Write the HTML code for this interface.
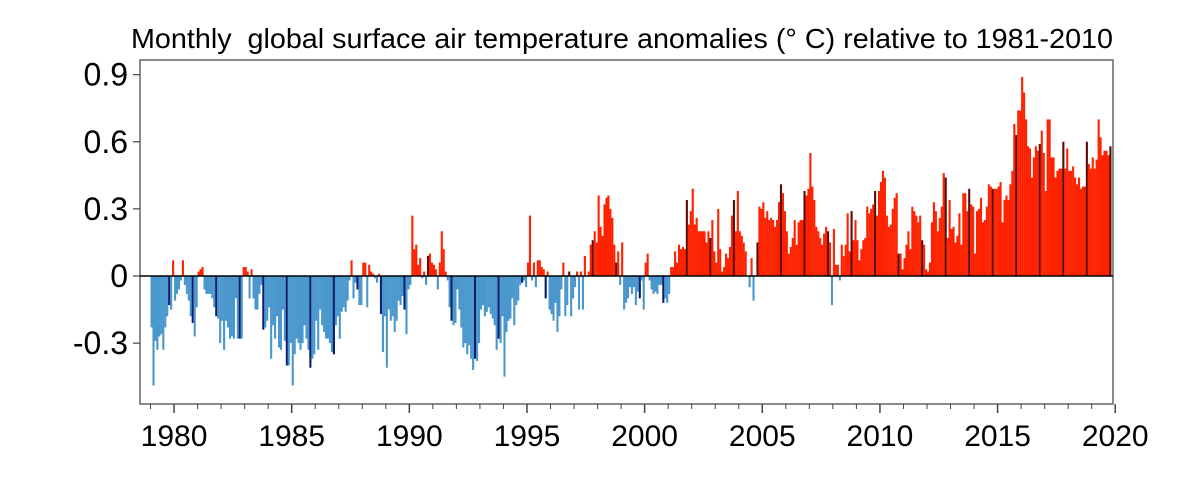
<!DOCTYPE html>
<html><head><meta charset="utf-8"><style>
html,body{margin:0;padding:0;background:#fff;}
svg{display:block;font-family:"Liberation Sans",sans-serif;}
</style></head><body>
<svg id="chart" width="1200" height="497" viewBox="0 0 1200 497" xmlns="http://www.w3.org/2000/svg">
<text x="131" y="48" font-size="28" textLength="982" lengthAdjust="spacingAndGlyphs" xml:space="preserve">Monthly  global surface air temperature anomalies (° C) relative to 1981-2010</text>
<g id="bars"></g>
<g id="axes"></g>
</svg>
<script>
const anomalies = [
-0.23,-0.49,-0.29,-0.33,-0.27,-0.26,-0.33,-0.23,-0.18,-0.13,-0.15,0.07,
-0.11,-0.08,-0.06,-0.02,0.07,-0.04,-0.08,-0.11,-0.18,-0.21,-0.27,-0.14,
0.02,0.03,0.04,-0.06,-0.08,-0.08,-0.08,-0.1,-0.14,-0.18,-0.19,-0.3,
-0.2,-0.33,-0.2,-0.23,-0.28,-0.27,-0.28,-0.1,-0.28,-0.28,-0.28,0.04,
0.04,0.02,-0.1,0.03,-0.1,-0.15,-0.15,-0.08,-0.04,-0.24,-0.23,-0.2,
-0.14,-0.37,-0.22,-0.28,-0.18,-0.32,-0.33,-0.15,-0.29,-0.4,-0.4,-0.3,
-0.49,-0.35,-0.28,-0.3,-0.33,-0.3,-0.22,-0.28,-0.33,-0.41,-0.37,-0.35,
-0.2,-0.33,-0.15,-0.22,-0.25,-0.28,-0.28,-0.3,-0.34,-0.35,-0.22,-0.18,
-0.28,-0.16,-0.14,-0.16,-0.11,-0.02,0.07,-0.1,-0.03,-0.06,-0.13,-0.13,
0.06,0.06,-0.14,0.05,0.02,0.01,-0.01,-0.03,0.01,-0.17,-0.34,-0.18,
-0.41,-0.15,-0.2,-0.18,-0.25,-0.2,-0.11,-0.13,-0.09,-0.15,-0.26,-0.06,
-0.04,0.27,0.12,0.14,0.05,0.08,-0.01,0.02,-0.04,0.09,0.1,0.06,
0.05,0.03,-0.06,0.06,0.2,0.12,0.02,-0.02,-0.14,-0.2,-0.22,-0.21,
-0.06,-0.15,-0.23,-0.32,-0.3,-0.35,-0.31,-0.37,-0.42,-0.37,-0.38,-0.3,
-0.15,-0.13,-0.18,-0.16,-0.14,-0.17,-0.19,-0.22,-0.33,-0.28,-0.3,-0.18,
-0.45,-0.25,-0.2,-0.19,-0.1,-0.22,-0.13,-0.11,-0.04,-0.03,-0.02,-0.05,
0.06,0.27,-0.02,0.06,-0.05,0.07,0.07,0.04,0.03,-0.1,0.02,-0.15,
-0.17,-0.2,-0.12,-0.25,-0.18,-0.06,0.06,-0.18,-0.13,0.02,-0.18,-0.1,
-0.05,0.02,-0.15,0.02,-0.15,0.09,0.0,0.02,0.14,0.16,0.2,0.15,
0.36,0.22,0.18,0.32,0.35,0.36,0.3,0.26,0.14,0.06,0.11,-0.04,
0.15,-0.15,-0.12,-0.1,-0.05,-0.08,-0.05,-0.13,-0.07,-0.1,-0.02,-0.15,
0.06,0.1,-0.02,-0.06,-0.08,-0.07,-0.08,-0.04,-0.04,-0.12,-0.1,-0.12,
-0.08,0.04,0.04,0.11,0.06,0.14,0.12,0.13,0.12,0.34,0.23,0.29,
0.39,0.23,0.26,0.2,0.2,0.2,0.2,0.15,0.2,0.17,0.25,0.11,
0.06,0.3,0.12,0.02,0.04,0.1,0.08,0.13,0.27,0.34,0.2,0.38,
0.2,0.18,0.15,0.11,0.0,-0.05,0.08,-0.11,0.0,0.15,0.31,0.3,
0.33,0.26,0.29,0.25,0.26,0.25,0.22,0.25,0.33,0.41,0.37,0.29,
0.2,0.1,0.13,0.17,0.25,0.14,0.24,0.25,0.25,0.38,0.36,0.39,
0.55,0.4,0.34,0.22,0.2,0.17,0.14,0.19,0.22,0.2,0.15,-0.13,
0.21,0.05,0.05,-0.02,0.14,0.09,0.14,0.28,0.11,
0.29,0.16,0.25,0.16,0.07,0.12,0.16,0.17,0.31,0.28,0.3,
0.32,0.38,0.27,0.38,0.42,0.47,0.44,0.27,0.22,0.23,0.3,0.35,0.37,0.1,0.1,0.03,0.08,0.14,0.2,0.12,0.31,0.29,0.27,0.24,0.27,0.16,0.14,0.03,0.02,0.06,0.24,0.33,0.29,0.2,0.26,0.31,0.46,0.44,0.17,0.34,0.21,0.22,0.15,0.18,0.28,0.14,0.37,0.37,0.29,0.39,0.32,0.31,0.1,0.29,0.3,0.35,0.24,0.25,0.31,0.41,0.4,0.39,0.39,0.39,0.4,0.42,0.24,0.34,0.36,0.34,0.41,0.47,0.68,0.63,0.74,0.74,0.89,0.82,0.7,0.58,0.57,0.44,0.53,0.58,0.56,0.59,0.65,0.55,0.38,0.7,0.7,0.53,0.53,0.44,0.47,0.48,0.48,0.6,0.48,0.57,0.47,0.47,0.49,0.44,0.41,0.44,0.39,0.4,0.4,0.6,0.5,0.48,0.53,0.48,0.52,0.7,0.62,0.54,0.56,0.56,0.54,0.58
];
const startYear = 1979;
const yTicks = [0.9, 0.6, 0.3, 0, -0.3];
const yTickLabels = ["0.9", "0.6", "0.3", "0", "-0.3"];
const xYearLabels = [1980, 1985, 1990, 1995, 2000, 2005, 2010, 2015, 2020];

const NS = "http://www.w3.org/2000/svg";
const L = 140, R = 1113, T = 60, B = 404;
const zeroY = 276, pxPerUnit = 223.7;
const y = v => zeroY - v * pxPerUnit;
const monthW = 23.53 / 12;
const x = m => 150.5 + m * monthW;
const xYear = yr => x((yr - startYear) * 12);

function mk(tag, attrs, parent) {
  const e = document.createElementNS(NS, tag);
  for (const k in attrs) e.setAttribute(k, attrs[k]);
  parent.appendChild(e);
  return e;
}
const bars = document.getElementById('bars');
const axes = document.getElementById('axes');
const n = anomalies.length;
anomalies.forEach((v, i) => {
  const m = i;
  const dark = (n - 1 - i) % 12 === 0;
  let fill;
  if (v >= 0) fill = dark ? '#5a0c06' : '#ff2200';
  else fill = dark ? '#0c1c6e' : '#4a97cd';
  const top = Math.min(y(v), zeroY), h = Math.abs(y(v) - zeroY);
  const r = mk('rect', {x: x(m).toFixed(2), y: top.toFixed(2), width: (monthW + 0.15).toFixed(2), height: h.toFixed(2), fill: fill}, bars);
  
  
});

const frame = mk('rect', {x: L, y: T, width: R - L, height: B - T, fill: 'none', stroke: '#666', 'stroke-width': 1.5}, axes);


const zl = mk('line', {x1: L, x2: R, y1: zeroY, y2: zeroY, stroke: '#000', 'stroke-width': 1.5}, axes);



yTicks.forEach((t, k) => {
  const tk = mk('line', {x1: L - 7, x2: L, y1: y(t), y2: y(t), stroke: '#444', 'stroke-width': 1.2}, axes);
  
  
  const tx = mk('text', {x: L - 12, y: y(t) + 11, 'font-size': 32, 'text-anchor': 'end'}, axes);
  tx.textContent = yTickLabels[k];
  
  
});
for (let yr = startYear; yr <= 2020; yr++) {
  const major = yr % 5 === 0;
  const tk = mk('line', {x1: xYear(yr), x2: xYear(yr), y1: B, y2: B + (major ? 9 : 5), stroke: '#444', 'stroke-width': major ? 1.5 : 1}, axes);
  
  
}
xYearLabels.forEach(yr => {
  const tx = mk('text', {x: xYear(yr), y: 446, 'font-size': 30, 'text-anchor': 'middle'}, axes);
  tx.textContent = String(yr);
  
  
});
</script>
</body></html>
